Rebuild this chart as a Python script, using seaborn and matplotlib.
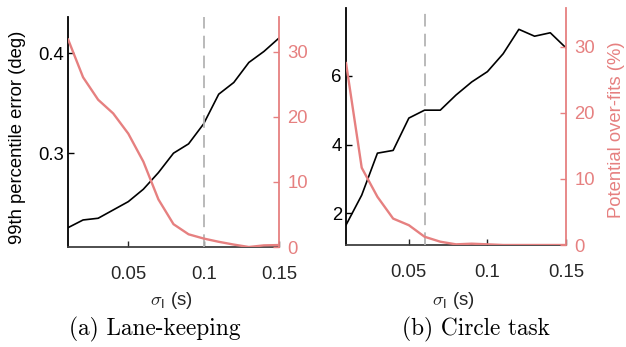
import numpy as np
import pandas as pd
import matplotlib
matplotlib.use("Agg")
import matplotlib.pyplot as plt
import seaborn as sns

# ---- data ----
sigma = [0.01, 0.02, 0.03, 0.04, 0.05, 0.06, 0.07, 0.08, 0.09, 0.10, 0.11, 0.12, 0.13, 0.14, 0.15]

lane_err = [0.2256, 0.2333, 0.235, 0.2433, 0.2516, 0.264, 0.2806, 0.300, 0.3093, 0.3293,
            0.3589, 0.3706, 0.3906, 0.4016, 0.415]
lane_over = [31.9, 26.05, 22.6, 20.5, 17.4, 13.1, 7.3, 3.5, 1.95, 1.3, 0.8, 0.37, 0.0, 0.25, 0.3]

circ_err = [1.66, 2.53, 3.75, 3.83, 4.77, 5.0, 5.0, 5.44, 5.82, 6.12, 6.64, 7.35, 7.15, 7.25, 6.81]
circ_over = [27.6, 11.7, 7.3, 4.0, 3.0, 1.25, 0.5, 0.1, 0.2, 0.1, 0.0, 0.0, 0.0, 0.0, 0.0]

lane_cut = 0.1
circ_cut = 0.06

left_label = "99th percentile error (deg)"
right_label = "Potential over-fits (%)"
xlabel = r"$\sigma_{\mathsf{I}}$ (s)"
captions = ["(a) Lane-keeping", "(b) Circle task"]

# ---- style ----
sns.set_style("white")
plt.rcParams["font.family"] = ["Liberation Sans", "DejaVu Sans"]
plt.rcParams["mathtext.fontset"] = "cm"

RED = "#E68080"
AXC = "#262626"
FS = 13.3

W, H = 626, 347
fig = plt.figure(figsize=(W / 100, H / 100), dpi=100)

def add_axes(l, r, t, b):
    return fig.add_axes([l / W, 1 - b / H, (r - l) / W, (b - t) / H])

panels = [
    dict(box=(68, 279, 17, 247), err=lane_err, over=lane_over, cut=lane_cut,
         ylim=(0.2063, 0.436), ylim2=(0, 35.3), yticks=[0.3, 0.4], ytl=["0.3", "0.4"],
         ylab=left_label, ylab2=None),
    dict(box=(346, 566, 8, 245), err=circ_err, over=circ_over, cut=circ_cut,
         ylim=(1.08, 7.97), ylim2=(0, 35.9), yticks=[2, 4, 6], ytl=["2", "4", "6"],
         ylab=None, ylab2=right_label),
]

for i, p in enumerate(panels):
    ax = add_axes(*p["box"])
    ax2 = ax.twinx()
    df = pd.DataFrame({"sigma": sigma, "err": p["err"], "over": p["over"]})

    sns.lineplot(data=df, x="sigma", y="err", ax=ax, color="black", linewidth=1.2)
    sns.lineplot(data=df, x="sigma", y="over", ax=ax2, color=RED, linewidth=1.7)
    ax2.axvline(p["cut"], color="#b4b4b4", linewidth=1.3, linestyle=(0, (7, 4)), zorder=0)

    ax.set_xlim(0.01, 0.15)
    ax.set_ylim(*p["ylim"])
    ax2.set_ylim(*p["ylim2"])
    ax.set_xticks([0.05, 0.1, 0.15])
    ax.set_xticklabels(["0.05", "0.1", "0.15"])
    ax.set_yticks(p["yticks"])
    ax.set_yticklabels(p["ytl"])
    ax2.set_yticks([0, 10, 20, 30])
    ax2.set_yticklabels(["0", "10", "20", "30"])

    for a in (ax, ax2):
        a.spines["top"].set_visible(False)
    ax.spines["right"].set_visible(False)
    ax2.spines["left"].set_visible(False)
    ax2.spines["bottom"].set_visible(False)
    ax.spines["left"].set_color("black")
    ax.spines["bottom"].set_color("#404040")
    ax2.spines["right"].set_color(RED)
    for s in ("left", "bottom"):
        ax.spines[s].set_linewidth(1.3)
    ax2.spines["right"].set_linewidth(1.3)

    ax.tick_params(axis="x", direction="in", length=4, width=1, colors=AXC,
                   labelsize=FS, pad=14, bottom=True)
    ax.tick_params(axis="y", direction="in", length=4, width=1, colors="black",
                   labelsize=FS, pad=3, left=True)
    ax2.tick_params(axis="y", direction="in", length=4, width=1, colors=RED,
                    labelsize=FS, pad=6, right=True)

    ax.set_xlabel(xlabel, fontsize=FS, color=AXC)
    ax.xaxis.set_label_coords(0.49, -0.188)
    ax.set_ylabel(p["ylab"] or "", fontsize=FS, color="black")
    ax.yaxis.set_label_coords(-0.2, 0.478)
    ax2.set_ylabel(p["ylab2"] or "", fontsize=FS, color=RED)
    ax2.yaxis.set_label_coords(1.19, 0.485)

fig.text(155 / W, 1 - 329 / H, captions[0], fontsize=16.8, family="cmr10",
         ha="center", va="center", color="black")
fig.text(476 / W, 1 - 329 / H, captions[1], fontsize=16.8, family="cmr10",
         ha="center", va="center", color="black")

fig.savefig("out.png", dpi=100)
